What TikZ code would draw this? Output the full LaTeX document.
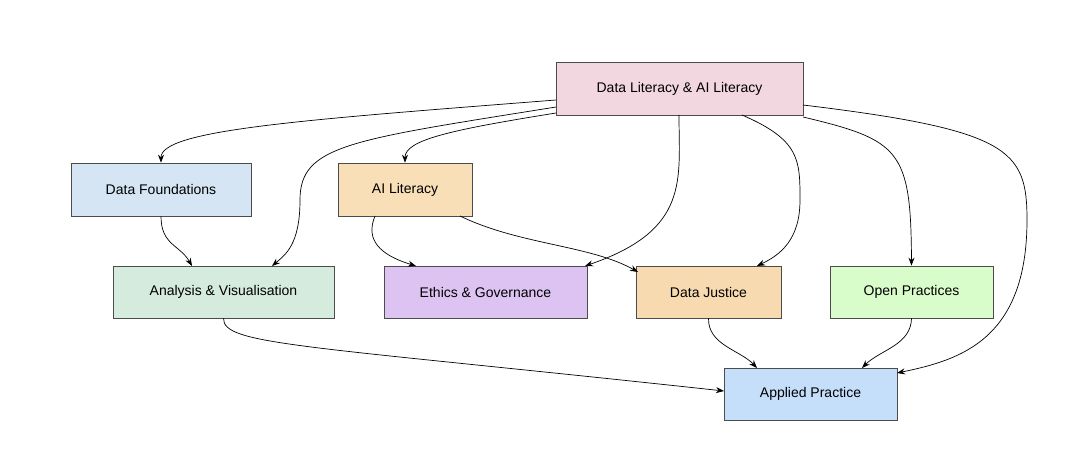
\documentclass[tikz,border=0pt]{standalone}
\usepackage{fontspec}
\setmainfont{Liberation Sans}
\usetikzlibrary{arrows.meta}
\definecolor{cTop}{HTML}{F2D7E0}
\definecolor{cDF}{HTML}{D5E5F3}
\definecolor{cAI}{HTML}{F8DFB8}
\definecolor{cAV}{HTML}{D5EBDD}
\definecolor{cEG}{HTML}{DDC3F2}
\definecolor{cDJ}{HTML}{F8DAB0}
\definecolor{cOP}{HTML}{D9FCCB}
\definecolor{cAP}{HTML}{C5DFFB}
\begin{document}
\begin{tikzpicture}[x=1pt,y=-1pt,
  box/.style={draw=black!70,line width=0.7pt,minimum height=53pt,inner sep=0pt,font=\fontsize{14}{16}\selectfont},
  e/.style={-{Stealth[length=8pt,width=6pt]},line width=0.7pt}]
\useasboundingbox (0,0) rectangle (1090,449);
\node[box,fill=cTop,minimum width=247pt] (top) at (679.5,88.5) {Data Literacy \& AI Literacy};
\node[box,fill=cDF,minimum width=180pt] (df) at (161,189.5) {Data Foundations};
\node[box,fill=cAI,minimum width=134pt] (ai) at (405,189.5) {AI Literacy};
\node[box,fill=cAV,minimum width=221pt,minimum height=52pt] (av) at (223.5,292) {Analysis \& Visualisation};
\node[box,fill=cEG,minimum width=203pt,minimum height=52pt] (eg) at (485.5,292) {Ethics \& Governance};
\node[box,fill=cDJ,minimum width=145pt,minimum height=52pt] (dj) at (708.5,292) {Data Justice};
\node[box,fill=cOP,minimum width=163pt,minimum height=52pt] (op) at (911.5,292) {Open Practices};
\node[box,fill=cAP,minimum width=173pt,minimum height=52pt] (ap) at (810.5,394) {Applied Practice};
\coordinate (t1) at (556,100);
\coordinate (t2) at (556,107);
\coordinate (t3) at (556,113);
\draw[e] (t1) .. controls (300,120) and (161,130) .. (df.north);
\draw[e] (t2) .. controls (350,140) and (300,145) .. (300,200) .. controls (300,245) and (285,255) .. (272,266);
\draw[e] (t3) .. controls (450,130) and (405,140) .. (ai.north);
\draw[e] (679,115) .. controls (679,180) and (690,230) .. (585,266);
\draw[e] (742,115) .. controls (800,140) and (800,160) .. (800,200) .. controls (800,240) and (780,255) .. (757,266);
\draw[e] (803,117) .. controls (900,140) and (911,150) .. (op.north);
\draw[e] (803,105) .. controls (1010,130) and (1027,150) .. (1027,220) .. controls (1027,340) and (960,360) .. (897,373);
\draw[e] (df.south) .. controls (161,245) and (180,245) .. (192,266);
\draw[e] (375,216) .. controls (365,240) and (380,255) .. (416,266);
\draw[e] (460,216) .. controls (520,245) and (590,245) .. (638,272);
\draw[e] (av.south) .. controls (223,345) and (300,345) .. (724,391);
\draw[e] (dj.south) .. controls (708,345) and (740,350) .. (757,368);
\draw[e] (op.south) .. controls (911,345) and (880,350) .. (862,368);
\end{tikzpicture}
\end{document}
